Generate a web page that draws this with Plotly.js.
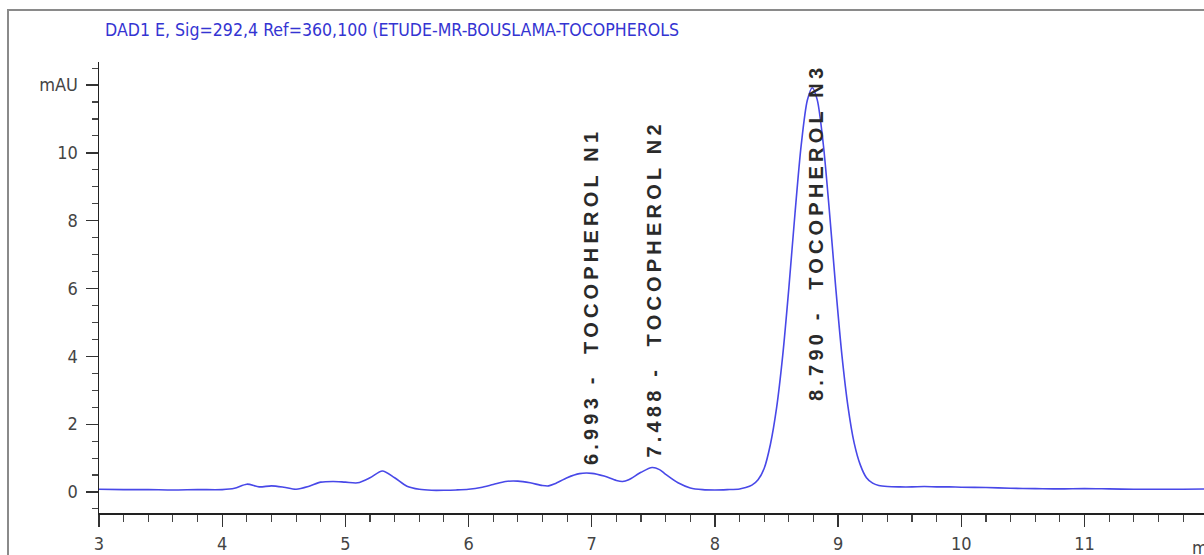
<!DOCTYPE html>
<html>
<head>
<meta charset="utf-8">
<script src="https://cdn.plot.ly/plotly-3.0.1.min.js"></script>
<style>
  html, body { margin: 0; padding: 0; background: #fff; overflow: hidden; }
  #chart { width: 1204px; height: 555px; }
  g.annotation[data-index="1"] text,
  g.annotation[data-index="2"] text,
  g.annotation[data-index="3"] text { letter-spacing: 4.2px; }
</style>
</head>
<body>
<div id="chart"></div>
<script>
// Retention time (min)
const retentionTime = [
  3.0, 3.2, 3.4, 3.6, 3.8, 4.0, 4.1, 4.2, 4.3, 4.4, 4.5, 4.6, 4.7, 4.8, 4.9, 5.0,
  5.1, 5.2, 5.3, 5.4, 5.5, 5.6, 5.7, 5.8, 5.9, 6.0, 6.1, 6.2, 6.3, 6.4, 6.5, 6.6,
  6.65, 6.7, 6.8, 6.9, 7.0, 7.1, 7.2, 7.25, 7.3, 7.4, 7.49, 7.55, 7.6, 7.7, 7.8,
  7.9, 8.0, 8.1, 8.2, 8.25, 8.3, 8.35, 8.4, 8.45, 8.5, 8.55, 8.6, 8.65, 8.7, 8.75,
  8.79, 8.83, 8.88, 8.93, 8.98, 9.03, 9.08, 9.13, 9.18, 9.23, 9.28, 9.33, 9.4,
  9.5, 9.6, 9.7, 9.8, 9.9, 10.0, 10.2, 10.4, 10.6, 10.8, 11.0, 11.2, 11.4, 11.6,
  11.8, 12.0
];
// Absorbance (mAU)
const absorbance = [
  0.08, 0.07, 0.07, 0.06, 0.07, 0.07, 0.11, 0.23, 0.15, 0.18, 0.14, 0.08, 0.16, 0.29, 0.31, 0.29,
  0.27, 0.42, 0.62, 0.42, 0.17, 0.08, 0.05, 0.05, 0.06, 0.08, 0.13, 0.22, 0.31, 0.32, 0.27, 0.19,
  0.18, 0.24, 0.42, 0.54, 0.55, 0.47, 0.34, 0.31, 0.36, 0.58, 0.72, 0.66, 0.52, 0.27, 0.12,
  0.07, 0.06, 0.07, 0.09, 0.13, 0.20, 0.36, 0.70, 1.40, 2.47, 4.02, 6.02, 8.22, 10.22, 11.55,
  11.92, 11.57, 10.24, 8.24, 6.05, 4.06, 2.52, 1.45, 0.80, 0.42, 0.26, 0.19, 0.16,
  0.15, 0.15, 0.16, 0.15, 0.15, 0.14, 0.13, 0.11, 0.10, 0.09, 0.10, 0.09, 0.08, 0.08,
  0.08, 0.09
];
// Peak labels
const peakTimes = [6.993, 7.488, 8.790];
const peakNames = ["TOCOPHEROL N1", "TOCOPHEROL N2", "TOCOPHEROL N3"];
const peakLabelCenters = [5.78, 6.0, 7.65];
const peakLabelShift = [0, 2, 3];

const yTickVals = [0, 2, 4, 6, 8, 10, 12];
const yTickText = ["0", "2", "4", "6", "8", "10", "mAU"];
const xTickVals = [3, 4, 5, 6, 7, 8, 9, 10, 11];
const xTickText = ["3", "4", "5", "6", "7", "8", "9", "10", "11"];

const titleText = "DAD1 E, Sig=292,4 Ref=360,100 (ETUDE-MR-BOUSLAMA-TOCOPHEROLS";

const sans = "Liberation Sans, Arial, sans-serif";
const narrow = "DejaVu Sans Condensed, Liberation Sans Narrow, sans-serif";

const trace = {
  x: retentionTime,
  y: absorbance,
  type: "scatter",
  mode: "lines",
  line: { color: "rgb(72,72,232)", width: 1.6, shape: "spline", smoothing: 0.8 },
  hoverinfo: "x+y"
};

const annotations = [
  {
    xref: "paper", yref: "paper", x: (12 - 3) / (11.97 - 3), y: 0,
    yshift: -34, text: "min", showarrow: false, xanchor: "center", yanchor: "middle",
    font: { family: narrow, size: 18, color: "#444" }
  }
];
peakTimes.forEach((t, i) => {
  annotations.push({
    x: t, y: peakLabelCenters[i], xref: "x", yref: "y",
    text: t.toFixed(3) + " -  " + peakNames[i],
    textangle: -90, showarrow: false, xanchor: "center", yanchor: "middle",
    xshift: peakLabelShift[i],
    font: { family: sans, size: 20, color: "#2a2a2a", weight: "bold" }
  });
});

const layout = {
  width: 1204, height: 555,
  margin: { l: 99, r: 0, t: 62, b: 42, pad: 0 },
  paper_bgcolor: "#ffffff", plot_bgcolor: "#ffffff",
  showlegend: false,
  title: {
    text: titleText,
    xref: "container", yref: "container",
    x: 105 / 1204, xanchor: "left",
    y: 1 - 30 / 555, yanchor: "middle",
    font: { family: narrow, size: 17.6, color: "rgb(52,52,210)" }
  },
  xaxis: {
    range: [3, 11.97],
    showgrid: false, zeroline: false,
    showline: true, linecolor: "#222", linewidth: 1.5,
    ticks: "outside", ticklen: 12, tickwidth: 1.3, tickcolor: "#333",
    tickvals: xTickVals, ticktext: xTickText,
    minor: { dtick: 0.2, ticklen: 7, tickwidth: 1.1, tickcolor: "#444", ticks: "outside", showgrid: false },
    tickfont: { family: narrow, size: 18, color: "#444" },
    ticklabelstandoff: 2
  },
  yaxis: {
    range: [-0.62, 12.68],
    showgrid: false, zeroline: false,
    showline: true, linecolor: "#222", linewidth: 1.5,
    ticks: "outside", ticklen: 12, tickwidth: 1.3, tickcolor: "#333",
    tickvals: yTickVals, ticktext: yTickText,
    minor: { dtick: 0.5, ticklen: 6, tickwidth: 1.1, tickcolor: "#444", ticks: "outside", showgrid: false },
    tickfont: { family: narrow, size: 18, color: "#444" },
    ticklabelstandoff: 4
  },
  shapes: [
    {
      type: "rect", xref: "paper", yref: "paper",
      x0: (8 - 99) / 1105, x1: 1.2, y0: -0.3, y1: (513 - 10) / 451,
      line: { color: "#8a8a8a", width: 2 }, fillcolor: "rgba(0,0,0,0)", layer: "below"
    }
  ],
  annotations: annotations
};

Plotly.newPlot("chart", [trace], layout, { displayModeBar: false, staticPlot: true });
</script>
</body>
</html>
